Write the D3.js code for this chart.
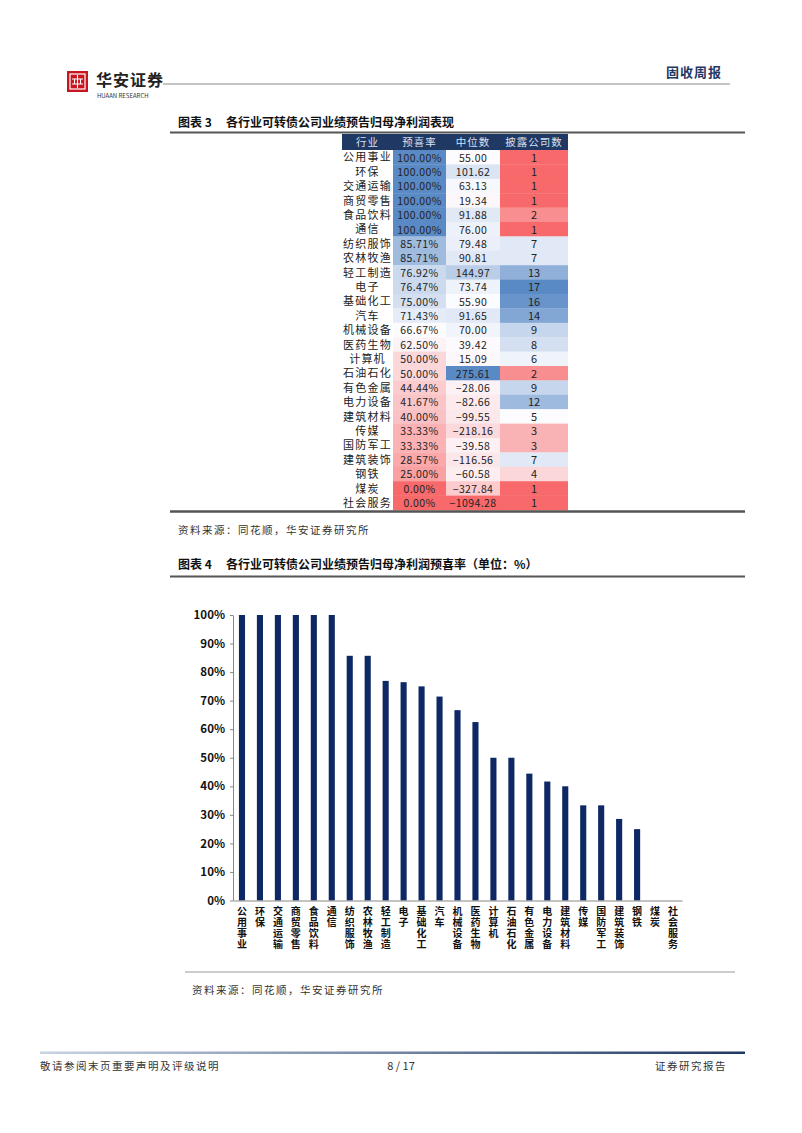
<!DOCTYPE html>
<html><head><meta charset="utf-8">
<script src="https://cdn.jsdelivr.net/npm/d3@7"></script>
<style>
html,body{margin:0;padding:0;background:#fff;}
svg{display:block;}
text{font-family:"Noto Sans CJK SC","Liberation Sans",sans-serif;}
.vlab{writing-mode:vertical-rl;text-orientation:upright;}
</style></head>
<body><svg id="page" width="802" height="1133"></svg>
<script>
// ---- data ----
const industries = ['公用事业','环保','交通运输','商贸零售','食品饮料','通信','纺织服饰','农林牧渔','轻工制造','电子','基础化工','汽车','机械设备','医药生物','计算机','石油石化','有色金属','电力设备','建筑材料','传媒','国防军工','建筑装饰','钢铁','煤炭','社会服务'];
const rates = [100,100,100,100,100,100,85.71,85.71,76.92,76.47,75.00,71.43,66.67,62.50,50.00,50.00,44.44,41.67,40.00,33.33,33.33,28.57,25.00,0,0];
const medians = [55.00,101.62,63.13,19.34,91.88,76.00,79.48,90.81,144.97,73.74,55.90,91.65,70.00,39.42,15.09,275.61,-28.06,-82.66,-99.55,-218.16,-39.58,-116.56,-60.58,-327.84,-1094.28];
const counts = [1,1,1,1,2,1,7,7,13,17,16,14,9,8,6,2,9,12,5,3,3,7,4,1,1];
const tableHeaders = ['行业','预喜率','中位数','披露公司数'];
const yTicks = [0,10,20,30,40,50,60,70,80,90,100];

const svg = d3.select('#page');
svg.append('rect').attr('width',802).attr('height',1133).attr('fill','#fff');

// ---- header ----
const logo = svg.append('g').attr('transform','translate(67,71)');
logo.append('rect').attr('width',21).attr('height',21).attr('fill','#c8161e');
logo.append('rect').attr('x',3).attr('y',3).attr('width',15).attr('height',15).attr('fill','none').attr('stroke','#fff').attr('stroke-width',1.2);
logo.append('path').attr('d','M10.5,4 V17 M5,8 H16 M5,13 H16 M7.5,8 V13 M13.5,8 V13').attr('stroke','#fff').attr('stroke-width',1.1).attr('fill','none');
svg.append('text').attr('x',96).attr('y',86).attr('font-size',16).attr('font-weight',700).attr('fill','#222').attr('letter-spacing',1).text('华安证券');
svg.append('text').attr('x',97).attr('y',98).attr('font-size',6).attr('font-family','Liberation Serif').attr('fill','#333').text('HUAAN RESEARCH');
svg.append('line').attr('x1',163).attr('x2',730).attr('y1',84).attr('y2',84).attr('stroke','#8a8a8a').attr('stroke-width',1);
svg.append('text').attr('x',722).attr('y',77).attr('text-anchor','end').attr('font-size',13).attr('font-weight',700).attr('fill','#1f3864').attr('letter-spacing',1).text('固收周报');

// ---- titles ----
function title(y, num, txt){
  svg.append('text').attr('x',178).attr('y',y).attr('font-size',12).attr('font-weight',700).attr('fill','#111').text('图表 '+num);
  svg.append('text').attr('x',226).attr('y',y).attr('font-size',12).attr('font-weight',700).attr('fill','#111').text(txt);
}
title(127,'3','各行业可转债公司业绩预告归母净利润表现');
svg.append('line').attr('x1',170).attr('x2',745).attr('y1',132.5).attr('y2',132.5).attr('stroke','#555').attr('stroke-width',2);

// ---- table ----
const colEdges = [342,393,446,500,568];
const rowTop = 150, rowH = 14.4, headTop = 134;
const mkScale = arr => d3.scaleLinear()
  .domain([d3.min(arr), d3.median(arr), d3.max(arr)])
  .range(['#F8696B','#FCFCFF','#5A8AC6']).interpolate(d3.interpolateRgb);
const sRate = mkScale(rates), sMed = mkScale(medians), sCnt = mkScale(counts);

const tbl = svg.append('g');
tbl.append('rect').attr('x',colEdges[0]).attr('y',headTop).attr('width',colEdges[4]-colEdges[0]).attr('height',rowTop-headTop).attr('fill','#1f3864');
tableHeaders.forEach((h,i)=>{
  tbl.append('text').attr('x',(colEdges[i]+colEdges[i+1])/2).attr('y',headTop+12)
    .attr('text-anchor','middle').attr('font-size',10.5).attr('fill','#d6e0f0').attr('letter-spacing',1).text(h);
});
const rows = tbl.selectAll('g.row').data(industries.map((n,i)=>({n,r:rates[i],m:medians[i],c:counts[i],i})))
  .join('g').attr('class','row').attr('transform',d=>`translate(0,${rowTop+d.i*rowH})`);
rows.append('rect').attr('x',colEdges[1]).attr('width',colEdges[2]-colEdges[1]).attr('height',rowH+0.3).attr('fill',d=>sRate(d.r));
rows.append('rect').attr('x',colEdges[2]).attr('width',colEdges[3]-colEdges[2]).attr('height',rowH+0.3).attr('fill',d=>sMed(d.m));
rows.append('rect').attr('x',colEdges[3]).attr('width',colEdges[4]-colEdges[3]).attr('height',rowH+0.3).attr('fill',d=>sCnt(d.c));
rows.append('text').attr('x',(colEdges[0]+colEdges[1])/2).attr('y',11.3).attr('text-anchor','middle')
  .attr('font-size',11).attr('letter-spacing',1.2).attr('fill','#222').text(d=>d.n);
rows.append('text').attr('x',(colEdges[1]+colEdges[2])/2).attr('y',11.5).attr('text-anchor','middle')
  .attr('font-family','Liberation Sans').attr('font-size',10.5).attr('letter-spacing',0.4).attr('fill','#222').text(d=>d.r.toFixed(2)+'%');
rows.append('text').attr('x',(colEdges[2]+colEdges[3])/2).attr('y',11.5).attr('text-anchor','middle')
  .attr('font-family','Liberation Sans').attr('font-size',10.5).attr('letter-spacing',0.4).attr('fill','#222').text(d=>d.m.toFixed(2).replace('-','−'));
rows.append('text').attr('x',(colEdges[3]+colEdges[4])/2).attr('y',11.5).attr('text-anchor','middle')
  .attr('font-family','Liberation Sans').attr('font-size',11).attr('fill','#222').text(d=>d.c);

svg.append('line').attr('x1',170).attr('x2',745).attr('y1',511.5).attr('y2',511.5).attr('stroke','#555').attr('stroke-width',2.5);

// ---- sources ----
function source(x,y){
  svg.append('text').attr('x',x).attr('y',y).attr('font-size',10.5).attr('letter-spacing',1.5).attr('fill','#333').text('资料来源：同花顺，华安证券研究所');
}
source(178,534);

// ---- chart 4 ----
title(569,'4','各行业可转债公司业绩预告归母净利润预喜率（单位：%）');
svg.append('line').attr('x1',170).attr('x2',745).attr('y1',576.5).attr('y2',576.5).attr('stroke','#555').attr('stroke-width',2);

const x = d3.scaleBand().domain(industries).range([233,682]).paddingInner(0.66).paddingOuter(0.33);
const y = d3.scaleLinear().domain([0,100]).range([900.5,615]);

const ch = svg.append('g');
ch.selectAll('rect.bar').data(industries.map((n,i)=>({n,v:rates[i]})))
  .join('rect').attr('class','bar')
  .attr('x',d=>x(d.n)).attr('width',x.bandwidth())
  .attr('y',d=>y(d.v)).attr('height',d=>y(0)-y(d.v)).attr('fill','#0e2865');

const yAxis = ch.append('g').attr('transform','translate(233,0)')
  .call(d3.axisLeft(y).tickValues(yTicks).tickFormat(d=>d+'%').tickSize(3).tickSizeOuter(0));
yAxis.select('.domain').attr('stroke','#888');
yAxis.selectAll('.tick line').attr('stroke','#888');
yAxis.selectAll('.tick text').attr('font-family','Liberation Sans').attr('font-weight',700).attr('font-size',11.5).attr('fill','#111').attr('x',-8);

const xAxis = ch.append('g').attr('transform','translate(0,900.5)')
  .call(d3.axisBottom(x).tickSize(0).tickSizeOuter(0).tickFormat(''));
xAxis.select('.domain').attr('stroke','#888');
xAxis.selectAll('.tick').append('text').attr('class','vlab')
  .attr('x',0).attr('y',6).attr('text-anchor','start')
  .attr('font-size',10).attr('font-weight',700).attr('letter-spacing',0.8).attr('fill','#111')
  .text(d=>d);

svg.append('line').attr('x1',185).attr('x2',735).attr('y1',972).attr('y2',972).attr('stroke','#999').attr('stroke-width',1);
source(192,994);

// ---- footer ----
const defs = svg.append('defs');
const gr = defs.append('linearGradient').attr('id','fg').attr('x1','0%').attr('x2','100%');
gr.append('stop').attr('offset','0%').attr('stop-color','#c9d3e3');
gr.append('stop').attr('offset','100%').attr('stop-color','#1f3864');
svg.append('rect').attr('x',40).attr('y',1051.5).attr('width',705).attr('height',2.5).attr('fill','url(#fg)');
svg.append('text').attr('x',40).attr('y',1070).attr('font-size',10.5).attr('letter-spacing',1.5).attr('fill','#333').text('敬请参阅末页重要声明及评级说明');
svg.append('text').attr('x',401).attr('y',1070).attr('text-anchor','middle').attr('font-family','Liberation Sans').attr('font-size',11).attr('fill','#333').text('8 / 17');
svg.append('text').attr('x',727).attr('y',1070).attr('text-anchor','end').attr('font-size',10.5).attr('letter-spacing',1.5).attr('fill','#333').text('证券研究报告');
</script></body></html>
